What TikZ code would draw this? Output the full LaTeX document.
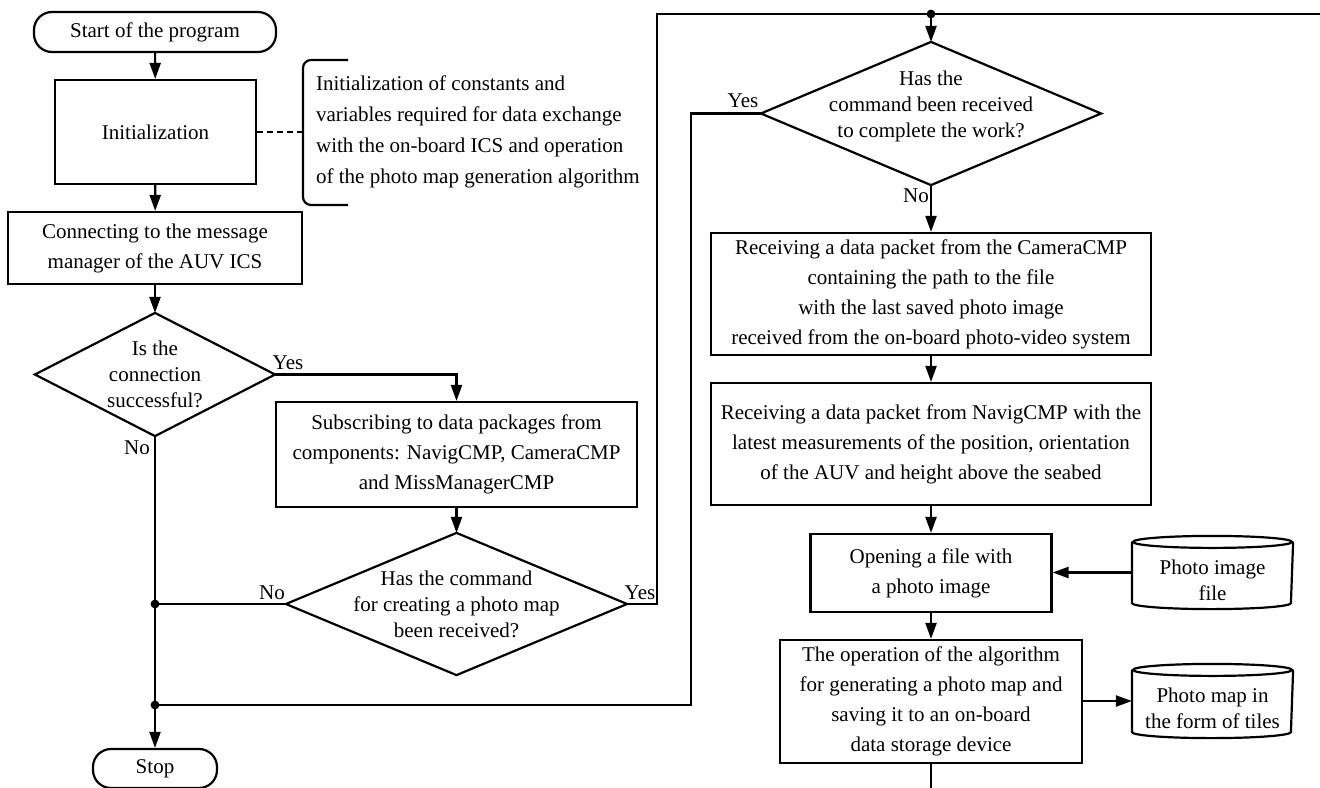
\documentclass[tikz,border=0pt]{standalone}
\usepackage{fontspec}
\setmainfont{Liberation Serif}
\usetikzlibrary{arrows.meta,calc}
\begin{document}
\begin{tikzpicture}[x=0.5pt,y=-0.5pt,
  line width=1.1pt,
  base/.style={inner sep=0pt, align=center, font=\fontsize{10.5pt}{15pt}\selectfont},
  box/.style={base, draw, rectangle},
  term/.style={base, draw, rectangle, rounded corners=9pt},
  decide/.style={base, rectangle, font=\fontsize{10.5pt}{13pt}\selectfont},
  store/.style={base, rectangle, font=\fontsize{10.5pt}{13pt}\selectfont},
  tag/.style={inner sep=0pt, font=\fontsize{10.5pt}{13pt}\selectfont},
  arr/.style={-{Triangle[length=8pt,width=5.5pt]}}
]
\useasboundingbox (0,0) rectangle (1320,787);

% ---------- left column ----------
\node[term, minimum width=121pt, minimum height=20pt] (start) at (155,32) {Start of the program};
\node[box, minimum width=100.5pt, minimum height=52pt] (init) at (155.5,132) {Initialization};
\node[base, anchor=west, align=left, font=\fontsize{10.5pt}{15.5pt}\selectfont] (note) at (315,132)
  {Initialization of constants and\\variables required for data exchange\\with the on-board ICS and operation\\of the photo map generation algorithm};
\node[box, minimum width=147pt, minimum height=36pt] (conn) at (155,248)
  {Connecting to the message\\manager of the AUV ICS};
\node[decide, minimum width=119pt, minimum height=60.5pt] (d1) at (155,374.5)
  {Is the\\connection\\successful?};
\node[box, minimum width=180.5pt, minimum height=52.5pt] (sub) at (456.5,454.5)
  {Subscribing to data packages from\\components: NavigCMP, CameraCMP\\and MissManagerCMP};
\node[decide, minimum width=169.5pt, minimum height=70pt] (d2) at (456.5,604)
  {Has the command\\for creating a photo map\\been received?};
\node[term, minimum width=62pt, minimum height=19.5pt] (stop) at (155,768.5) {Stop};

% ---------- right column ----------
\node[decide, minimum width=169pt, minimum height=70.5pt] (d3) at (931,113.5) {};
\node[decide] (d3t) at (931,106) {Has the\\command been received\\to complete the work?};
\node[box, minimum width=220pt, minimum height=61pt] (cam) at (931,294)
  {Receiving a data packet from the CameraCMP\\containing the path to the file\\with the last saved photo image\\received from the on-board photo-video system};
\node[box, minimum width=220pt, minimum height=61pt] (nav) at (931,444)
  {Receiving a data packet from NavigCMP with the\\latest measurements of the position, orientation\\of the AUV and height above the seabed};
\node[box, minimum width=120.5pt, minimum height=39pt] (open) at (931,573)
  {Opening a file with\\a photo image};
\node[box, minimum width=151pt, minimum height=61.5pt] (algo) at (931,701.5)
  {The operation of the algorithm\\for generating a photo map and\\saving it to an on-board\\data storage device};
\node[store, minimum width=79.5pt, minimum height=35.5pt] (cyl1) at (1212.5,572.5) {};
\node[store] (cyl1t) at (1212.5,580) {Photo image\\file};
\node[store, minimum width=79.5pt, minimum height=36pt] (cyl2) at (1212.5,701) {};
\node[store] (cyl2t) at (1212.5,708) {Photo map in\\the form of tiles};

% ---------- decision outlines ----------
\foreach \d in {d1,d2,d3}
  \draw (\d.north) -- (\d.east) -- (\d.south) -- (\d.west) -- cycle;

% ---------- storage cylinders ----------
\foreach \c in {cyl1,cyl2}{
  \draw ([yshift=-3pt]\c.north) ellipse (39.75pt and 3pt);
  \draw ([yshift=-3pt]\c.north west) -- ([yshift=3pt]\c.south west)
        arc (180:360:39.75pt and 3pt) -- ([yshift=-3pt]\c.north east);
}

% ---------- comment bracket ----------
\draw[rounded corners=4pt] ($(note.west)+(33,-72)$) -- ($(note.west)+(-12,-72)$)
      -- ($(note.west)+(-12,73)$) -- ($(note.west)+(33,73)$);
\draw[dashed, dash pattern=on 3pt off 2pt] (init.east) -- ($(note.west)+(-12,0)$);

% ---------- junction points ----------
\coordinate (j1) at (d1.south |- d2.west);
\coordinate (j2) at (155,705);
\coordinate (c3) at (691,705);
\coordinate (c2) at (657,14);
\coordinate (topend) at (1330,14);
\coordinate (j3) at (d3.north |- c2);
\coordinate (bot) at (931,795);

% ---------- connectors ----------
\draw[arr] (start) -- (init);
\draw[arr] (init) -- (conn);
\draw[arr] (conn.south) -- (d1.north);
\draw[arr] (d1.east) -| (sub.north);
\draw[arr] (sub.south) -- (d2.north);
\draw[arr] (d1.south) -- (stop.north);
\draw (d2.west) -- (j1);
\draw (d2.east) -| (c2) -- (topend);
\draw[arr] (j3) -- (d3.north);
\draw (d3.west) -| (c3) -- (j2);
\draw[arr] (d3.south) -- (cam.north);
\draw[arr] (cam) -- (nav);
\draw[arr] (nav) -- (open);
\draw[arr] (open) -- (algo);
\draw[arr] (cyl1.west) -- (open.east |- cyl1.west);
\draw[arr] (algo.east |- cyl2.west) -- (cyl2.west);
\draw (algo.south) -- (bot);
\foreach \p in {j1,j2,j3} \fill (\p) circle (2.2pt);

% ---------- branch labels ----------
\node[tag] (y1) at (288,363) {Yes};
\node[tag] (n1) at (137,448) {No};
\node[tag] (n2) at (272,593) {No};
\node[tag] (y2) at (640,593) {Yes};
\node[tag] (y3) at (743,101) {Yes};
\node[tag] (n3) at (916,196) {No};
\end{tikzpicture}
\end{document}
